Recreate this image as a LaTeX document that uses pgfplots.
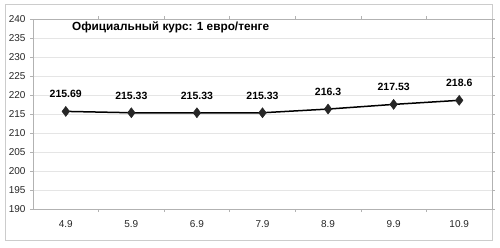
\documentclass[border=0pt]{standalone}
\usepackage{pgfplots}
\pgfplotsset{compat=1.18}
\usepackage{fontspec}
\setmainfont{Liberation Sans}
\begin{document}
\begin{tikzpicture}
\useasboundingbox (0pt,0pt) rectangle (500pt,247pt);
\draw[black!20, line width=0.8pt] (5pt,7pt) rectangle (492pt,243pt);
\begin{axis}[
  at={(33pt,38pt)}, anchor=south west,
  scale only axis, width=459pt, height=190pt,
  xmin=-0.5, xmax=6.5, ymin=190, ymax=240,
  ytick={190,195,...,240},
  xtick={0,...,6},
  xticklabels={4.9,5.9,6.9,7.9,8.9,9.9,10.9},
  minor xtick={0.5,1.5,...,5.5},
  ymajorgrids, grid style={black!10, line width=0.5pt},
  axis line style={black!30, line width=0.6pt},
  tick style={black!30, line width=0.6pt},
  tick align=outside,
  x tick style={draw=none},
  minor x tick style={draw=black!30},
  major tick length=3pt, minor tick length=3pt,
  /pgf/number format/assume math mode=true,
  ticklabel style={font=\fontsize{10}{12}\selectfont, text=black!85},
  xticklabel style={yshift=-5pt},
  yticklabel style={xshift=-1pt},
  clip=false,
  nodes near coords,
  point meta=explicit symbolic,
  every node near coord/.append style={font=\bfseries\fontsize{10.5}{12}\selectfont, text=black, anchor=south, yshift=10pt},
]
\addplot[black, line width=1.5pt, mark=diamond*, mark size=5pt, mark options={fill=black!85, draw=black!85, line width=0.5pt}]
coordinates {
(0,215.69) [215.69]
(1,215.33) [215.33]
(2,215.33) [215.33]
(3,215.33) [215.33]
(4,216.3) [216.3]
(5,217.53) [217.53]
(6,218.6) [218.6]
};
\end{axis}
\node[font=\bfseries\fontsize{11.8}{14}\selectfont, anchor=west, inner sep=0pt] at (72pt,220pt) {Официальный курс: 1 евро/тенге};
\end{tikzpicture}
\end{document}
